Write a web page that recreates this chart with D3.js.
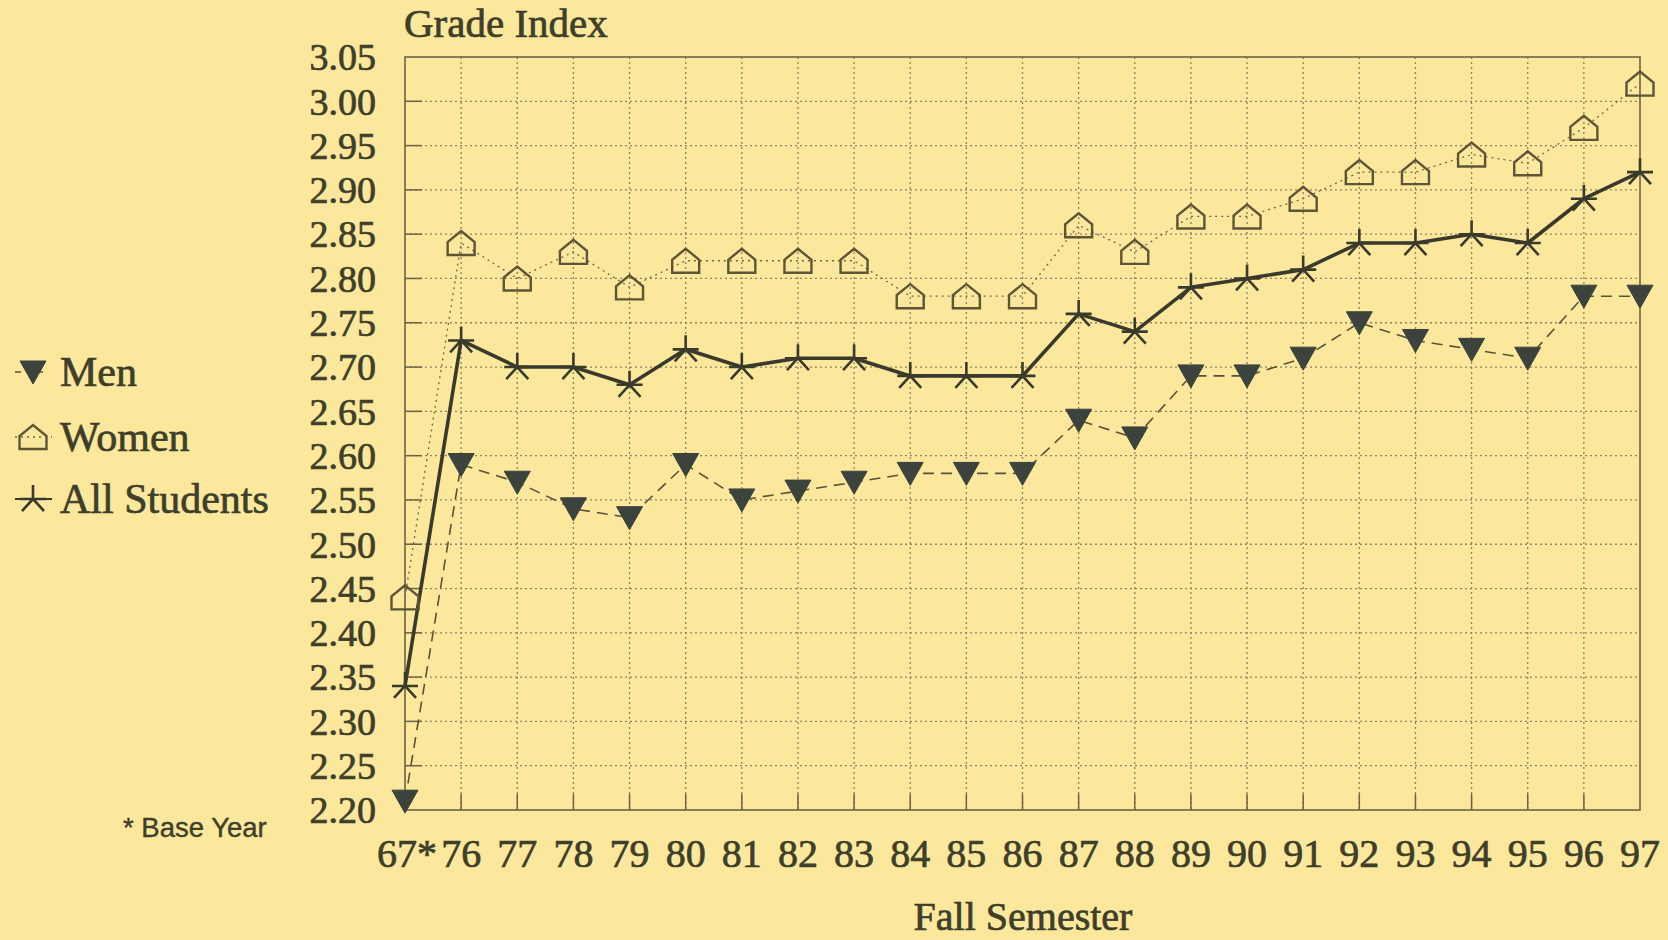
<!DOCTYPE html>
<html>
<head>
<meta charset="utf-8">
<script src="https://cdn.jsdelivr.net/npm/d3@7"></script>
<style>
  html, body { margin: 0; padding: 0; background: #fbe89c; }
  svg { display: block; }
  text { paint-order: stroke; }
</style>
</head>
<body>
<div id="chart"></div>
<script>
// data
const years = ['67*','76','77','78','79','80','81','82','83','84','85','86','87','88','89','90','91','92','93','94','95','96','97'];
const women = [2.44,2.84,2.80,2.83,2.79,2.82,2.82,2.82,2.82,2.78,2.78,2.78,2.86,2.83,2.87,2.87,2.89,2.92,2.92,2.94,2.93,2.97,3.02];
const men   = [2.21,2.59,2.57,2.54,2.53,2.59,2.55,2.56,2.57,2.58,2.58,2.58,2.64,2.62,2.69,2.69,2.71,2.75,2.73,2.72,2.71,2.78,2.78];
const all   = [2.34,2.73,2.70,2.70,2.68,2.72,2.70,2.71,2.71,2.69,2.69,2.69,2.76,2.74,2.79,2.80,2.81,2.84,2.84,2.85,2.84,2.89,2.92];
const yTicks = [2.20,2.25,2.30,2.35,2.40,2.45,2.50,2.55,2.60,2.65,2.70,2.75,2.80,2.85,2.90,2.95,3.00,3.05];
const seriesNames = ['Men','Women','All Students'];

const W = 1668, H = 940;
const plot = { left: 405, right: 1640, top: 57, bottom: 810 };
const ink = '#3e3e2a', grid = '#8f8060', frame = '#6e6244';
const serif = '"Liberation Serif", "Times New Roman", serif';

const svg = d3.select('#chart').append('svg').attr('width', W).attr('height', H);
svg.append('rect').attr('width', W).attr('height', H).attr('fill', '#fbe89c');

const x = d3.scalePoint().domain(years).range([plot.left, plot.right]);
const y = d3.scaleLinear().domain([2.20, 3.05]).range([plot.bottom, plot.top]);

// heavier text, like the scan
const label = sel => sel.attr('fill', ink).attr('stroke', ink).attr('stroke-width', 0.7);

// dotted grid
svg.append('g').selectAll('line').data(yTicks.slice(1, -1)).join('line')
  .attr('x1', plot.left).attr('x2', plot.right).attr('y1', d => y(d)).attr('y2', d => y(d))
  .attr('stroke', grid).attr('stroke-width', 1.3).attr('stroke-dasharray', '2,3');
svg.append('g').selectAll('line').data(years.slice(1, -1)).join('line')
  .attr('x1', d => x(d)).attr('x2', d => x(d)).attr('y1', plot.top).attr('y2', plot.bottom)
  .attr('stroke', grid).attr('stroke-width', 1.3).attr('stroke-dasharray', '2,3');

// inner ticks
svg.append('g').selectAll('line').data(yTicks.slice(1, -1)).join('line')
  .attr('x1', plot.left).attr('x2', plot.left + 17).attr('y1', d => y(d)).attr('y2', d => y(d))
  .attr('stroke', frame).attr('stroke-width', 1.5);
svg.append('g').selectAll('line').data(years.slice(1, -1)).join('line')
  .attr('x1', d => x(d)).attr('x2', d => x(d)).attr('y1', plot.bottom).attr('y2', plot.bottom - 16)
  .attr('stroke', frame).attr('stroke-width', 1.5);

// frame
svg.append('rect').attr('x', plot.left).attr('y', plot.top)
  .attr('width', plot.right - plot.left).attr('height', plot.bottom - plot.top)
  .attr('fill', 'none').attr('stroke', frame).attr('stroke-width', 1.6);

// tick labels
svg.append('g').selectAll('text').data(yTicks).join('text')
  .attr('x', 376).attr('y', d => y(d)).attr('dy', '0.35em').attr('text-anchor', 'end')
  .attr('font-family', serif).attr('font-size', 38).call(label)
  .text(d => d.toFixed(2));
svg.append('g').selectAll('text').data(years).join('text')
  .attr('x', (d, i) => x(d) + (i === 0 ? 2 : 0)).attr('y', 867).attr('text-anchor', 'middle')
  .attr('font-family', serif).attr('font-size', 40).call(label)
  .text(d => d);

svg.append('text').attr('x', 404).attr('y', 37).attr('font-family', serif).attr('font-size', 41)
  .call(label).text('Grade Index');
svg.append('text').attr('x', 1023).attr('y', 930).attr('text-anchor', 'middle').attr('font-family', serif)
  .attr('font-size', 40).call(label).text('Fall Semester');
svg.append('text').attr('x', 123).attr('y', 837).attr('font-family', '"Liberation Sans", Arial, sans-serif')
  .attr('font-size', 27.5).call(label).attr('stroke-width', 0.4).text('* Base Year');

// marker shapes
const tri = 'M-13,-11L13,-11L0,12Z';
const house = 'M-13.5,12L13.5,12L13.5,-1L0,-12L-13.5,-1Z';
const star = 'M-13,0L13,0M0,0L0,-14M0,0L-11,12M0,0L11,12';

const styles = {
  'Men':          { data: men,   stroke: '#5a5238', width: 1.6, dash: '11,7' },
  'Women':        { data: women, stroke: '#6f6448', width: 1.3, dash: '2,4' },
  'All Students': { data: all,   stroke: '#3a3a2c', width: 3.6, dash: null }
};

const line = d3.line().x((d, i) => x(years[i])).y(d => y(d));

seriesNames.forEach(name => {
  const s = styles[name];
  svg.append('path').datum(s.data).attr('d', line).attr('fill', 'none')
    .attr('stroke', s.stroke).attr('stroke-width', s.width)
    .attr('stroke-dasharray', s.dash).attr('stroke-linejoin', 'round');
});

function drawMarker(g, name) {
  if (name === 'Men') {
    g.append('path').attr('d', tri).attr('fill', '#3c433d').attr('stroke', '#3c433d').attr('stroke-width', 1);
  } else if (name === 'Women') {
    g.append('path').attr('d', house).attr('fill', 'none').attr('stroke', '#5e5537').attr('stroke-width', 2.4);
  } else {
    g.append('path').attr('d', star).attr('fill', 'none').attr('stroke', '#3a3a2c').attr('stroke-width', 2.6);
  }
}

seriesNames.forEach(name => {
  const s = styles[name];
  s.data.forEach((v, i) => {
    const g = svg.append('g').attr('transform', `translate(${x(years[i])},${y(v)})`);
    drawMarker(g, name);
  });
});

// legend
const legendY = [372, 437, 499];
seriesNames.forEach((name, i) => {
  const s = styles[name];
  const ly = legendY[i];
  svg.append('line').attr('x1', 15).attr('x2', 52).attr('y1', ly).attr('y2', ly)
    .attr('stroke', s.stroke).attr('stroke-width', Math.min(s.width, 2))
    .attr('stroke-dasharray', name === 'Men' ? '6,16' : s.dash);
  const g = svg.append('g').attr('transform', `translate(33,${ly})`);
  drawMarker(g, name);
  svg.append('text').attr('x', 60).attr('y', ly + 14).attr('font-family', serif)
    .attr('font-size', 42).call(label).text(name);
});
</script>
</body>
</html>
